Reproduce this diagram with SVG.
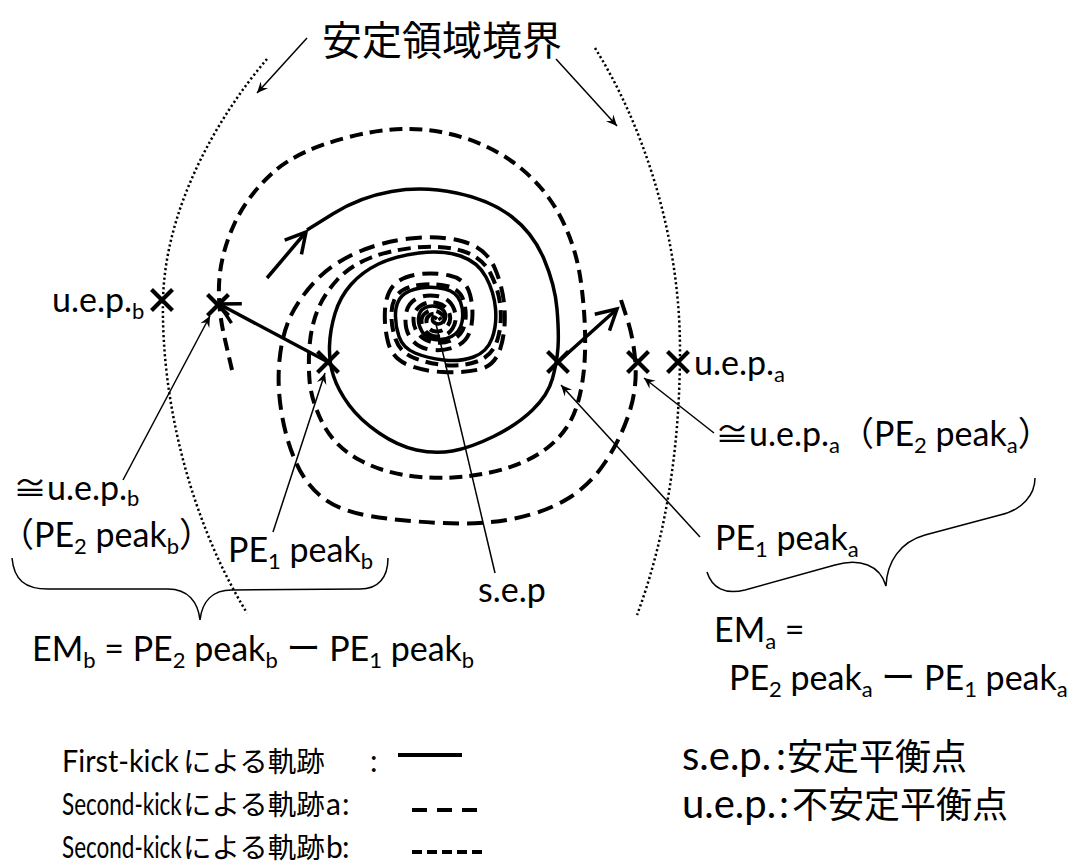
<svg xmlns="http://www.w3.org/2000/svg" width="1084" height="866" viewBox="0 0 1084 866">
<defs>
<style>
.t{font-family:Lato,"Noto Sans CJK JP",sans-serif;font-size:34px;fill:#000}
.s{font-size:22px}
.cjk{font-family:"Noto Sans CJK JP",sans-serif;fill:#000}
.lg{font-family:Lato,"Noto Sans CJK JP",sans-serif;font-size:30px;fill:#000}
.lgc{font-family:"Noto Sans CJK JP",sans-serif;font-size:28.5px;fill:#000}
.rl{font-family:Lato,"Noto Sans CJK JP",sans-serif;font-size:40px;fill:#000}
.rlc{font-family:"Noto Sans CJK JP",sans-serif;font-size:36px;fill:#000}
.solid{fill:none;stroke:#000;stroke-width:3.5;stroke-linejoin:round}
.da{fill:none;stroke:#000;stroke-width:4;stroke-dasharray:16 8}
.db{fill:none;stroke:#000;stroke-width:4;stroke-dasharray:13 7}
.dot{fill:none;stroke:#000;stroke-width:2.5;stroke-dasharray:2.2 2.6}
.ptr{fill:none;stroke:#000;stroke-width:1.5}
.kick{fill:none;stroke:#000;stroke-width:3.5}
.x{fill:none;stroke:#000;stroke-width:4.2}
.brace{fill:none;stroke:#000;stroke-width:1.5}
</style>
<marker id="ah" viewBox="-12 -6 14 12" markerWidth="14" markerHeight="12" refX="0" refY="0" orient="auto" markerUnits="userSpaceOnUse">
<path d="M0,0 L-11,-5 L-7,0 L-11,5 Z" fill="#000"/>
</marker>
<marker id="vh" viewBox="-25 -15 30 30" markerWidth="30" markerHeight="30" refX="0" refY="0" orient="auto" markerUnits="userSpaceOnUse">
<path d="M-20,-11 L0,0 L-20,11" fill="none" stroke="#000" stroke-width="3.5"/>
</marker>
<path id="cr" d="M-10.5,-10.5 L10.5,10.5 M10.5,-10.5 L-10.5,10.5"/>
</defs>
<rect width="1084" height="866" fill="#fff"/>

<g id="boundaries">
<path class="dot" d="M267,59 C215,120 165,210 163,300 C161,400 190,520 247,613"/>
<path class="dot" d="M595,48 C640,120 680,230 680,350 C680,450 665,540 637,615"/>
</g>

<g id="trajectories">
<path id="traj-first" class="solid" d="M307,230 L333.5,213.5 Q360,197 391.5,191.5 Q423,186 456.5,193 Q490,200 511.5,216.5 Q533,233 544,259 Q555,285 557,309 Q559,333 558,347.5 Q557,362 552.5,378.5 Q548,395 532.5,410 Q517,425 493.5,436.5 Q470,448 452.5,451 Q435,454 416.5,450 Q398,446 379,433 Q360,420 349,405 Q338,390 333.5,376 Q329,362 329.5,346 Q330,330 335,313.5 Q340,297 351,284.5 Q362,272 378.5,264 Q395,256 419,253 Q443,250 460.5,256 Q478,262 486,277 Q494,292 495.5,308.5 Q497,325 492,338.5 Q487,352 473.5,357 Q460,362 443.5,360 Q427,358 415,353 Q403,348 399,336.5 Q395,325 395.5,313.5 Q396,302 402,296 Q408,290 420.5,288 Q433,286 445,289 Q457,292 460.5,302 Q464,312 462,322 Q460,332 451.5,336.5 Q443,341 434.5,339.5 Q426,338 422,331.5 Q418,325 418.5,318 Q419,311 424.5,308 Q430,305 436.5,306.5 Q443,308 445,313 Q447,318 443.5,321.5 Q440,325 436,323.5 Q432,322 432.5,319 Q433,316 435,317.5 L437,319"/>
<path id="traj-b" class="db" d="M232,370 L224.5,337.5 Q217,305 219.5,277.5 Q222,250 235,222.5 Q248,195 273,172.5 Q298,150 349,137 Q400,124 441,132 Q482,140 512,161.5 Q542,183 559,214 Q576,245 581,282.5 Q586,320 585,352.5 Q584,385 576,408.5 Q568,432 546.5,448.5 Q525,465 490,472.5 Q455,480 420,477 Q385,474 359.5,460 Q334,446 322.5,423 Q311,400 309.5,380 Q308,360 310,341.5 Q312,323 318.5,308 Q325,293 337.5,279.5 Q350,266 370,258 Q390,250 416.5,247.5 Q443,245 462.5,251 Q482,257 490.5,273.5 Q499,290 500.5,308 Q502,326 497,341 Q492,356 477,361.5 Q462,367 444,365 Q426,363 413,357.5 Q400,352 395.5,339 Q391,326 391.5,313 Q392,300 398.5,293.5 Q405,287 419,285 Q433,283 446.5,286 Q460,289 463.5,300.5 Q467,312 465,323 Q463,334 454,339 Q445,344 434.5,342.5 Q424,341 418.5,334 Q413,327 413.5,318.5 Q414,310 421,305.5 Q428,301 437,303 Q446,305 449,312.5 Q452,320 447.5,326 Q443,332 436,331.5 Q429,331 427,324.5 Q425,318 430,315 Q435,312 438,316 L441,320"/>
<path id="traj-a" class="da" d="M621,300 L627.5,320 Q634,340 635.5,365 Q637,390 628.5,415 Q620,440 605,462.5 Q590,485 568,498.5 Q546,512 514.5,518.5 Q483,525 441.5,523 Q400,521 370,516 Q340,511 323,498 Q306,485 296,462.5 Q286,440 281.5,412.5 Q277,385 279.5,360 Q282,335 290,317.5 Q298,300 314,282.5 Q330,265 355,253.5 Q380,242 410,238.5 Q440,235 463,241.5 Q486,248 494.5,267.5 Q503,287 504.5,308.5 Q506,330 500.5,348 Q495,366 479,369.5 Q463,373 442.5,372 Q422,371 407,364.5 Q392,358 388,342 Q384,326 385,310 Q386,294 393.5,285.5 Q401,277 417,274.5 Q433,272 449.5,275.5 Q466,279 470,294.5 Q474,310 471.5,325 Q469,340 458,345.5 Q447,351 433.5,350 Q420,349 412.5,340.5 Q405,332 405.5,318.5 Q406,305 415,299.5 Q424,294 437,296 Q450,298 454,309 Q458,320 452.5,328.5 Q447,337 437,336.5 Q427,336 423,327 Q419,318 425.5,313 Q432,308 439.5,312.5 Q447,317 443,322.5 L439,328"/>
</g>

<g id="connectors">
<line class="kick" x1="267" y1="278" x2="306" y2="232" marker-end="url(#vh)"/>
<line class="kick" x1="328" y1="362" x2="219" y2="304" marker-end="url(#vh)"/>
<line class="kick" x1="558" y1="362" x2="617" y2="309" marker-end="url(#vh)"/>
<line class="ptr" x1="307" y1="38" x2="257" y2="93" marker-end="url(#ah)"/>
<line class="ptr" x1="556" y1="59" x2="617" y2="126" marker-end="url(#ah)"/>
<line class="ptr" x1="123" y1="480" x2="210" y2="316" marker-end="url(#ah)"/>
<line class="ptr" x1="273" y1="532" x2="325" y2="373" marker-end="url(#ah)"/>
<line class="ptr" x1="495" y1="573" x2="436" y2="324"/>
<line class="ptr" x1="714" y1="433" x2="644" y2="378" marker-end="url(#ah)"/>
<line class="ptr" x1="700" y1="537" x2="561" y2="385" marker-end="url(#ah)"/>
<path class="brace" d="M12,558 C14,580 25,589 48,589 L168,589 C188,589 198,602 200,620 C202,602 212,590 232,590 L360,589 C378,589 388,578 388,558"/>
<path class="brace" d="M707,572 C712,588 725,595 745,590 L835,565 C860,558 880,565 886,586 C887,562 900,542 925,535 L1000,515 C1022,510 1035,495 1035,478"/>
</g>

<g id="title"><text class="cjk" x="322" y="55" font-size="40">安定領域境界</text></g>

<g id="cross-uep-b"><use href="#cr" class="x" transform="translate(162,300)"/></g>
<g id="cross-uep-b-approx"><use href="#cr" class="x" transform="translate(218,305)"/></g>
<g id="cross-pe1-b"><use href="#cr" class="x" transform="translate(328,362)"/></g>
<g id="cross-pe1-a"><use href="#cr" class="x" transform="translate(558,362)"/></g>
<g id="cross-uep-a-approx"><use href="#cr" class="x" transform="translate(638,362)"/></g>
<g id="cross-uep-a"><use href="#cr" class="x" transform="translate(678,362)"/></g>

<g id="label-uep-b"><text class="t" x="52" y="312">u.e.p.<tspan class="s" dy="7">b</tspan></text></g>
<g id="label-uep-b-approx">
<text class="t" x="13" y="500">≅u.e.p.<tspan class="s" dy="6">b</tspan></text>
<text class="t" x="0" y="547">（PE<tspan class="s" dy="7">2</tspan><tspan dy="-7"> peak</tspan><tspan class="s" dy="7">b</tspan><tspan dy="-7">）</tspan></text>
</g>
<g id="label-pe1-b"><text class="t" x="228" y="562">PE<tspan class="s" dy="7">1</tspan><tspan dy="-7"> peak</tspan><tspan class="s" dy="7">b</tspan></text></g>
<g id="label-sep"><text class="t" x="478" y="602">s.e.p</text></g>
<g id="label-emb"><text class="t" x="32" y="661">EM<tspan class="s" dy="7">b</tspan><tspan dy="-7"> = PE</tspan><tspan class="s" dy="7">2</tspan><tspan dy="-7"> peak</tspan><tspan class="s" dy="7">b</tspan><tspan dy="-7"> ー PE</tspan><tspan class="s" dy="7">1</tspan><tspan dy="-7"> peak</tspan><tspan class="s" dy="7">b</tspan></text></g>

<g id="label-uep-a"><text class="t" x="694" y="375">u.e.p.<tspan class="s" dy="7">a</tspan></text></g>
<g id="label-uep-a-approx"><text class="t" x="715" y="446">≅u.e.p.<tspan class="s" dy="7">a</tspan><tspan dy="-7">（PE</tspan><tspan class="s" dy="7">2</tspan><tspan dy="-7"> peak</tspan><tspan class="s" dy="7">a</tspan><tspan dy="-7">）</tspan></text></g>
<g id="label-pe1-a"><text class="t" x="715" y="550">PE<tspan class="s" dy="7">1</tspan><tspan dy="-7"> peak</tspan><tspan class="s" dy="7">a</tspan></text></g>
<g id="label-ema">
<text class="t" x="714" y="642">EM<tspan class="s" dy="7">a</tspan><tspan dy="-7"> =</tspan></text>
<text class="t" x="729" y="690">PE<tspan class="s" dy="7">2</tspan><tspan dy="-7"> peak</tspan><tspan class="s" dy="7">a</tspan><tspan dy="-7"> ー PE</tspan><tspan class="s" dy="7">1</tspan><tspan dy="-7"> peak</tspan><tspan class="s" dy="7">a</tspan></text>
</g>

<g id="legend">
<text class="lg" transform="translate(62,772) scale(0.96,1)">First-kick</text>
<text class="lgc" x="183" y="772">による軌跡</text>
<text class="lg" x="370" y="772">:</text>
<line x1="398" y1="755" x2="462" y2="755" stroke="#000" stroke-width="4"/>
<text class="lg" transform="translate(62,815) scale(0.75,1)">Second-kick</text>
<text class="lgc" x="183" y="815">による軌跡</text>
<text class="lg" x="326" y="815">a</text>
<text class="lg" x="342" y="815">:</text>
<line x1="412" y1="810" x2="478" y2="810" stroke="#000" stroke-width="4" stroke-dasharray="15 10"/>
<text class="lg" transform="translate(62,858) scale(0.75,1)">Second-kick</text>
<text class="lgc" x="183" y="858">による軌跡</text>
<text class="lg" x="326" y="858">b</text>
<text class="lg" x="342" y="858">:</text>
<line x1="412" y1="852" x2="482" y2="852" stroke="#000" stroke-width="4" stroke-dasharray="10 5"/>
<text class="rl" x="682" y="770">s.e.p.</text>
<text class="rl" x="776" y="770">:</text>
<text class="rlc" x="787" y="770">安定平衡点</text>
<text class="rl" x="682" y="818">u.e.p.</text>
<text class="rl" x="779" y="818">:</text>
<text class="rlc" x="792" y="818">不安定平衡点</text>
</g>
</svg>
